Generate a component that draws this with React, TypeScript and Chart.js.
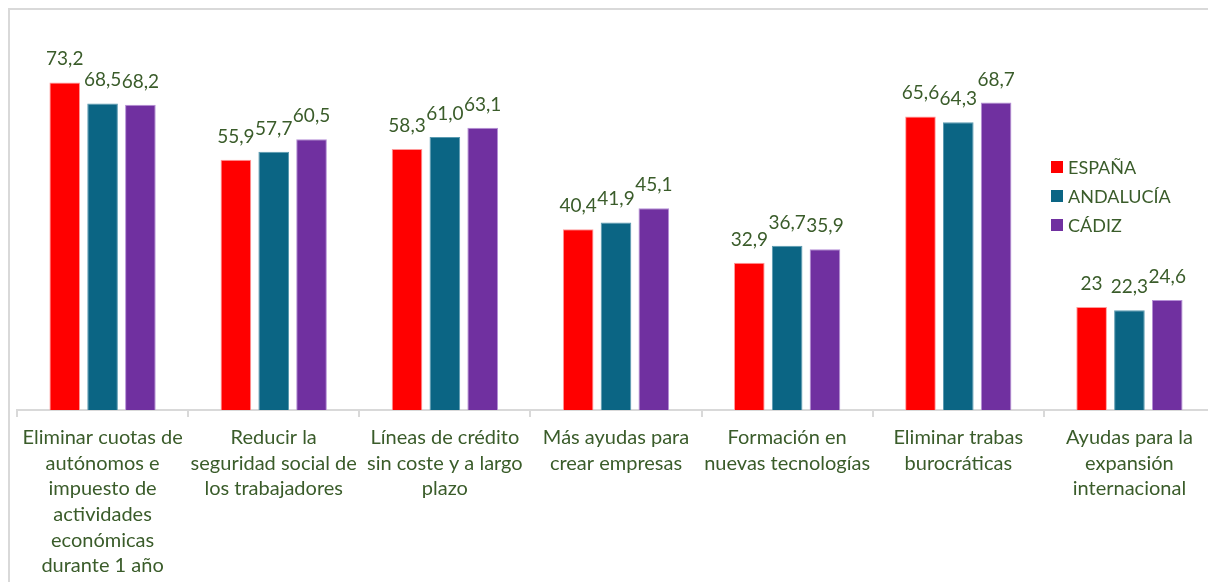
import React, { useEffect, useRef } from "react";
import { Chart, registerables } from "chart.js";

Chart.register(...registerables);

const categories: string[][] = [
  ["Eliminar cuotas de", "autónomos e", "impuesto de", "actividades", "económicas", "durante 1 año"],
  ["Reducir la", "seguridad social de", "los trabajadores"],
  ["Líneas de crédito", "sin coste y a largo", "plazo"],
  ["Más ayudas para", "crear empresas"],
  ["Formación en", "nuevas tecnologías"],
  ["Eliminar trabas", "burocráticas"],
  ["Ayudas para la", "expansión", "internacional"],
];

const seriesNames = ["ESPAÑA", "ANDALUCÍA", "CÁDIZ"];
const espana = [73.2, 55.9, 58.3, 40.4, 32.9, 65.6, 23];
const andalucia = [68.5, 57.7, 61.0, 41.9, 36.7, 64.3, 22.3];
const cadiz = [68.2, 60.5, 63.1, 45.1, 35.9, 68.7, 24.6];
const espanaLabels = ["73,2", "55,9", "58,3", "40,4", "32,9", "65,6", "23"];
const andaluciaLabels = ["68,5", "57,7", "61,0", "41,9", "36,7", "64,3", "22,3"];
const cadizLabels = ["68,2", "60,5", "63,1", "45,1", "35,9", "68,7", "24,6"];

const colors = ["#FF0000", "#0B6584", "#7030A0"];
const borderColors = ["#FF9A9A", "#5A9AB0", "#B58FD6"];
const textColor = "#3A5C2A";
const fontFamily = "Lato, 'Noto Sans', sans-serif";

export default function App() {
  const ref = useRef<HTMLCanvasElement | null>(null);

  useEffect(() => {
    if (!ref.current) return;
    const allLabels = [espanaLabels, andaluciaLabels, cadizLabels];

    const dataLabelPlugin = {
      id: "dataLabels",
      afterDatasetsDraw(chart: any) {
        const ctx = chart.ctx;
        ctx.save();
        ctx.font = `19px ${fontFamily}`;
        ctx.fillStyle = textColor;
        ctx.textAlign = "center";
        ctx.textBaseline = "alphabetic";
        chart.data.datasets.forEach((_ds: any, di: number) => {
          const meta = chart.getDatasetMeta(di);
          meta.data.forEach((el: any, i: number) => {
            ctx.fillText(allLabels[di][i], el.x, el.y - 17);
          });
        });
        ctx.restore();
      },
    };

    const legendPlugin = {
      id: "customLegend",
      afterDraw(chart: any) {
        const ctx = chart.ctx;
        ctx.save();
        ctx.font = `18px ${fontFamily}`;
        ctx.textBaseline = "middle";
        ctx.textAlign = "left";
        seriesNames.forEach((name, i) => {
          const cy = 157 + i * 29;
          ctx.fillStyle = colors[i];
          ctx.fillRect(1041, cy - 6, 12, 12);
          ctx.fillStyle = textColor;
          ctx.fillText(name, 1058, cy + 1);
        });
        ctx.restore();
      },
    };

    const chart = new Chart(ref.current, {
      type: "bar",
      data: {
        labels: categories as any,
        datasets: [
          { label: seriesNames[0], data: espana, backgroundColor: colors[0], borderColor: borderColors[0], borderWidth: 1 },
          { label: seriesNames[1], data: andalucia, backgroundColor: colors[1], borderColor: borderColors[1], borderWidth: 1 },
          { label: seriesNames[2], data: cadiz, backgroundColor: colors[2], borderColor: borderColors[2], borderWidth: 1 },
        ],
      },
      options: {
        responsive: false,
        animation: false,
        datasets: {
          bar: { categoryPercentage: 0.663, barPercentage: 0.81 },
        },
        layout: { padding: { left: 7, right: 5, top: 42, bottom: 0 } },
        plugins: {
          legend: { display: false },
          tooltip: { enabled: false },
        },
        scales: {
          x: {
            grid: {
              display: true,
              drawOnChartArea: false,
              drawTicks: true,
              tickLength: 7,
              color: "#D9D9D9",
              lineWidth: 2,
              offset: true,
            },
            border: { display: true, color: "#D9D9D9", width: 2 },
            ticks: {
              color: textColor,
              font: { family: fontFamily, size: 20, lineHeight: 1.28 },
              maxRotation: 0,
              minRotation: 0,
              autoSkip: false,
              padding: 8,
            },
            afterFit(scale: any) {
              scale.height = 170;
            },
          },
          y: {
            display: false,
            min: 0,
            max: 80,
          },
        },
      },
      plugins: [dataLabelPlugin, legendPlugin],
    });

    return () => chart.destroy();
  }, []);

  return (
    <div
      style={{
        position: "fixed",
        left: 8,
        top: 8,
        right: 0,
        bottom: 0,
        overflow: "hidden",
        background: "#fff",
      }}
    >
      <div
        style={{
          width: 1300,
          height: 700,
          border: "2px solid #D9D9D9",
          boxSizing: "border-box",
          background: "#fff",
        }}
      >
        <canvas ref={ref} width={1210} height={570} style={{ display: "block" }} />
      </div>
    </div>
  );
}
